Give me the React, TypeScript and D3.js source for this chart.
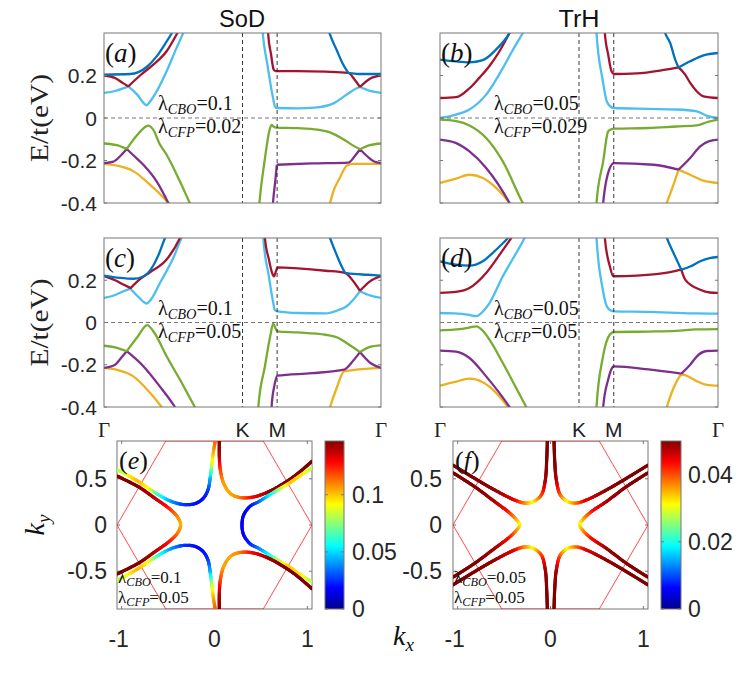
import { useEffect, useRef } from 'react';
import * as d3 from 'd3';

type Pt = [number, number] | null;
type CPt = [number, number, number];

const W = 747;
const H = 678;
const SANS = '"Liberation Sans", Arial, Helvetica, sans-serif';
const SERIF = '"Liberation Serif", "Times New Roman", serif';

// k path Γ-K-M-Γ as fraction of panel width
const kPath = [0, 0.5, 0.625, 1];
const kNames = ['Γ', 'K', 'M', 'Γ'];
const eTicks = [0.2, 0, -0.2, -0.4];
const eTickText = ['0.2', '0', '-0.2', '-0.4'];
const bandColors = ['#0072BD', '#A2142F', '#4DBEEE', '#77AC30', '#7E2F8E', '#EDB120'];

// (a) SoD  λCBO=0.1  λCFP=0.02
const aBlue: Pt[] = [[0, 0.204], [0.095, 0.207], [0.154, 0.24], [0.19, 0.29], [0.226, 0.36], [0.245, 0.4], [0.27, 0.47], null,
  [0.8, 0.46], [0.816, 0.392], [0.84, 0.32], [0.86, 0.26], [0.882, 0.212], null, [0.882, 0.212], [0.92, 0.207], [1, 0.207]];
const aRed: Pt[] = [[0, 0.2], [0.04, 0.188], [0.07, 0.163], [0.088, 0.149], null, [0.088, 0.149], [0.13, 0.2], [0.178, 0.251], [0.226, 0.314], [0.265, 0.4], [0.29, 0.46], null,
  [0.585, 0.6], [0.593, 0.39], [0.603, 0.3], [0.612, 0.23], [0.618, 0.221], null, [0.618, 0.221], [0.7, 0.221], [0.8, 0.218], [0.882, 0.212], [0.905, 0.18], [0.924, 0.146], null,
  [0.924, 0.146], [0.96, 0.185], [1, 0.2]];
const aLight: Pt[] = [[0, 0.118], [0.04, 0.127], [0.07, 0.14], [0.088, 0.149], null, [0.088, 0.149], [0.12, 0.11], [0.145, 0.068], [0.154, 0.06], [0.165, 0.075], [0.19, 0.125], [0.226, 0.22], [0.262, 0.33], [0.286, 0.4], [0.3, 0.44], null,
  [0.565, 0.55], [0.573, 0.4], [0.59, 0.25], [0.605, 0.13], [0.617, 0.05], null, [0.617, 0.05], [0.626, 0.047], [0.7, 0.045], [0.77, 0.05], [0.83, 0.07], [0.876, 0.11], [0.912, 0.14], [0.924, 0.146], null,
  [0.924, 0.146], [0.96, 0.128], [1, 0.118]];
const aGreen: Pt[] = [[0, -0.12], [0.046, -0.128], [0.082, -0.146], null, [0.082, -0.146], [0.12, -0.08], [0.16, -0.036], [0.18, -0.06], [0.2, -0.12], [0.226, -0.173], [0.274, -0.298], [0.31, -0.4], [0.33, -0.45], null,
  [0.555, -0.5], [0.561, -0.4], [0.58, -0.2], [0.597, -0.06], [0.605, -0.033], [0.612, -0.04], [0.62, -0.045], [0.7, -0.048], [0.77, -0.055], [0.82, -0.07], [0.864, -0.1], [0.9, -0.13], [0.924, -0.147], null,
  [0.924, -0.147], [0.96, -0.128], [1, -0.12]];
const aPurple: Pt[] = [[0, -0.212], [0.034, -0.205], [0.058, -0.18], [0.082, -0.146], null, [0.082, -0.146], [0.11, -0.18], [0.142, -0.22], [0.19, -0.298], [0.232, -0.4], [0.25, -0.45], null,
  [0.605, -0.5], [0.61, -0.4], [0.618, -0.3], [0.624, -0.22], null, [0.624, -0.22], [0.75, -0.214], [0.882, -0.21], [0.905, -0.18], [0.924, -0.147], null,
  [0.924, -0.147], [0.95, -0.18], [0.975, -0.205], [1, -0.212]];
const aYellow: Pt[] = [[0, -0.216], [0.05, -0.225], [0.106, -0.25], [0.166, -0.314], [0.2, -0.355], [0.232, -0.4], [0.25, -0.43], null,
  [0.8, -0.45], [0.816, -0.4], [0.828, -0.345], [0.852, -0.28], [0.876, -0.225], [0.9, -0.216], [1, -0.216]];

// (b) TrH  λCBO=0.05  λCFP=0.029
const bBlue: Pt[] = [[0, 0.275], [0.058, 0.266], [0.106, 0.262], [0.154, 0.272], [0.2, 0.32], [0.25, 0.4], [0.27, 0.45], null,
  [0.795, 0.48], [0.81, 0.4], [0.828, 0.353], [0.846, 0.275], [0.858, 0.238], null, [0.858, 0.238], [0.9, 0.267], [0.948, 0.295], [1, 0.306]];
const bRed: Pt[] = [[0, 0.094], [0.058, 0.098], [0.106, 0.14], [0.142, 0.19], [0.178, 0.245], [0.214, 0.314], [0.25, 0.4], [0.27, 0.45], null,
  [0.585, 0.6], [0.593, 0.4], [0.605, 0.298], [0.617, 0.22], [0.626, 0.207], [0.708, 0.21], [0.8, 0.225], [0.858, 0.238], null,
  [0.858, 0.238], [0.882, 0.204], [0.9, 0.165], [0.924, 0.125], [0.948, 0.102], [1, 0.094]];
const bLight: Pt[] = [[0, 0.0], [0.058, 0.016], [0.106, 0.04], [0.166, 0.11], [0.226, 0.235], [0.262, 0.32], [0.298, 0.4], [0.32, 0.45], null,
  [0.555, 0.6], [0.563, 0.4], [0.585, 0.18], [0.6, 0.078], [0.617, 0.05], [0.626, 0.047], [0.75, 0.043], [0.85, 0.04], [0.924, 0.031], [0.96, 0.01], [1, 0.0]];
const bGreen: Pt[] = [[0, -0.008], [0.058, -0.015], [0.106, -0.035], [0.166, -0.094], [0.226, -0.204], [0.298, -0.4], [0.32, -0.45], null,
  [0.555, -0.6], [0.563, -0.4], [0.587, -0.204], [0.605, -0.063], [0.62, -0.052], [0.626, -0.05], [0.75, -0.047], [0.85, -0.04], [0.924, -0.035], [0.96, -0.02], [1, -0.008]];
const bPurple: Pt[] = [[0, -0.102], [0.058, -0.118], [0.106, -0.157], [0.166, -0.235], [0.25, -0.4], [0.27, -0.45], null,
  [0.58, -0.6], [0.587, -0.4], [0.611, -0.235], [0.626, -0.212], [0.768, -0.22], [0.858, -0.243], null,
  [0.858, -0.243], [0.9, -0.188], [0.936, -0.133], [0.966, -0.11], [1, -0.102]];
const bYellow: Pt[] = [[0, -0.306], [0.058, -0.285], [0.106, -0.267], [0.154, -0.282], [0.202, -0.329], [0.25, -0.4], [0.27, -0.44], null,
  [0.805, -0.45], [0.816, -0.4], [0.84, -0.314], [0.858, -0.243], null, [0.858, -0.243], [0.9, -0.267], [0.948, -0.295], [1, -0.306]];

// (c) SoD  λCBO=0.1  λCFP=0.05
const cBlue: Pt[] = [[0, 0.222], [0.058, 0.211], [0.106, 0.207], [0.142, 0.218], [0.178, 0.27], [0.2, 0.33], [0.22, 0.4], [0.24, 0.46], null,
  [0.8, 0.46], [0.816, 0.4], [0.84, 0.32], [0.86, 0.26], [0.87, 0.235], null, [0.87, 0.235], [0.9, 0.23], [0.95, 0.226], [1, 0.222]];
const cRed: Pt[] = [[0, 0.22], [0.04, 0.2], [0.07, 0.18], [0.096, 0.163], null, [0.096, 0.163], [0.13, 0.205], [0.166, 0.238], [0.226, 0.298], [0.274, 0.4], [0.29, 0.45], null,
  [0.574, 0.6], [0.581, 0.4], [0.595, 0.3], [0.609, 0.227], [0.614, 0.218], [0.62, 0.24], [0.626, 0.261], null,
  [0.626, 0.261], [0.7, 0.256], [0.8, 0.245], [0.87, 0.235], [0.9, 0.195], [0.924, 0.15], null, [0.924, 0.15], [0.96, 0.195], [1, 0.22]];
const cLight: Pt[] = [[0, 0.116], [0.04, 0.13], [0.07, 0.148], [0.096, 0.16], null, [0.096, 0.16], [0.125, 0.12], [0.154, 0.09], [0.17, 0.11], [0.202, 0.187], [0.25, 0.305], [0.28, 0.4], [0.3, 0.45], null,
  [0.568, 0.6], [0.575, 0.4], [0.595, 0.22], [0.61, 0.1], [0.617, 0.058], [0.626, 0.053], [0.7, 0.045], [0.8, 0.043], [0.845, 0.058], [0.876, 0.077], [0.9, 0.108], [0.924, 0.148], null,
  [0.924, 0.148], [0.96, 0.128], [1, 0.116]];
const cGreen: Pt[] = [[0, -0.11], [0.04, -0.118], [0.082, -0.136], null, [0.082, -0.136], [0.12, -0.07], [0.156, -0.012], [0.18, -0.045], [0.226, -0.16], [0.274, -0.27], [0.328, -0.4], [0.35, -0.45], null,
  [0.55, -0.6], [0.557, -0.4], [0.581, -0.207], [0.6, -0.065], [0.611, -0.005], [0.62, -0.03], [0.626, -0.042], [0.7, -0.047], [0.8, -0.058], [0.845, -0.072], [0.876, -0.097], [0.924, -0.14], null,
  [0.924, -0.14], [0.96, -0.115], [1, -0.108]];
const cPurple: Pt[] = [[0, -0.215], [0.04, -0.2], [0.06, -0.17], [0.082, -0.136], null, [0.082, -0.136], [0.142, -0.207], [0.2, -0.3], [0.256, -0.4], [0.27, -0.43], null,
  [0.598, -0.6], [0.605, -0.4], [0.615, -0.3], [0.626, -0.252], [0.75, -0.24], [0.867, -0.223], [0.9, -0.18], [0.924, -0.14], null,
  [0.924, -0.14], [0.96, -0.19], [1, -0.215]];
const cYellow: Pt[] = [[0, -0.215], [0.05, -0.225], [0.106, -0.255], [0.166, -0.333], [0.208, -0.4], [0.225, -0.43], null,
  [0.805, -0.45], [0.816, -0.4], [0.84, -0.31], [0.867, -0.231], [0.9, -0.225], [1, -0.215]];

// (d) TrH  λCBO=0.05  λCFP=0.05
const dBlue: Pt[] = [[0, 0.29], [0.058, 0.274], [0.106, 0.269], [0.154, 0.29], [0.19, 0.33], [0.214, 0.36], [0.244, 0.4], [0.27, 0.45], null,
  [0.8, 0.46], [0.816, 0.4], [0.84, 0.329], [0.868, 0.25], null, [0.868, 0.25], [0.9, 0.265], [0.936, 0.29], [0.97, 0.305], [1, 0.31]];
const dRed: Pt[] = [[0, 0.14], [0.058, 0.145], [0.106, 0.163], [0.166, 0.234], [0.214, 0.32], [0.256, 0.4], [0.28, 0.45], null,
  [0.585, 0.6], [0.593, 0.4], [0.611, 0.266], [0.623, 0.219], [0.708, 0.222], [0.828, 0.238], [0.868, 0.25], null,
  [0.868, 0.25], [0.882, 0.203], [0.936, 0.155], [0.97, 0.142], [1, 0.14]];
const dLight: Pt[] = [[0, 0.045], [0.05, 0.043], [0.1, 0.037], [0.13, 0.03], [0.16, 0.06], [0.178, 0.092], [0.226, 0.219], [0.274, 0.329], [0.304, 0.4], [0.32, 0.45], null,
  [0.555, 0.6], [0.563, 0.4], [0.585, 0.16], [0.6, 0.077], [0.615, 0.056], [0.626, 0.053], [0.75, 0.05], [0.85, 0.046], [0.92, 0.043], [1, 0.042]];
const dGreen: Pt[] = [[0, -0.037], [0.05, -0.034], [0.1, -0.025], [0.13, -0.018], [0.155, -0.04], [0.178, -0.081], [0.226, -0.192], [0.31, -0.4], [0.33, -0.45], null,
  [0.555, -0.6], [0.563, -0.4], [0.585, -0.17], [0.611, -0.057], [0.626, -0.045], [0.75, -0.043], [0.85, -0.04], [0.92, -0.033], [1, -0.031]];
const dPurple: Pt[] = [[0, -0.133], [0.058, -0.138], [0.106, -0.168], [0.166, -0.255], [0.25, -0.4], [0.27, -0.44], null,
  [0.58, -0.6], [0.587, -0.4], [0.605, -0.27], [0.62, -0.213], [0.626, -0.208], [0.75, -0.222], [0.868, -0.242], null,
  [0.868, -0.242], [0.9, -0.2], [0.924, -0.16], [0.96, -0.135], [1, -0.133]];
const dYellow: Pt[] = [[0, -0.299], [0.058, -0.28], [0.106, -0.266], [0.154, -0.283], [0.202, -0.333], [0.244, -0.4], [0.26, -0.43], null,
  [0.805, -0.45], [0.816, -0.4], [0.84, -0.31], [0.868, -0.242], null, [0.868, -0.242], [0.9, -0.26], [0.924, -0.278], [0.96, -0.295], [1, -0.299]];

const bandSets = [
  [aBlue, aRed, aLight, aGreen, aPurple, aYellow],
  [bBlue, bRed, bLight, bGreen, bPurple, bYellow],
  [cBlue, cRed, cLight, cGreen, cPurple, cYellow],
  [dBlue, dRed, dLight, dGreen, dPurple, dYellow],
];
const cboText = ['0.1', '0.05', '0.1', '0.05'];
const cfpText = ['0.02', '0.029', '0.05', '0.05'];
const panelLetters = ['a', 'b', 'c', 'd'];

// Fermi contours: [kx, ky, Γ]
const eA: CPt[] = [[-1.05, 0.53, 0.147], [-0.82, 0.414, 0.147], [-0.64, 0.288, 0.138], [-0.49, 0.18, 0.125], [-0.4, 0.09, 0.11], [-0.365, 0, 0.103],
  [-0.4, -0.09, 0.11], [-0.49, -0.18, 0.125], [-0.64, -0.288, 0.138], [-0.82, -0.414, 0.147], [-1.05, -0.53, 0.147]];
const eB: CPt[] = [[-1.05, 0.6, 0.078], [-0.93, 0.535, 0.092], [-0.816, 0.468, 0.103], [-0.7, 0.39, 0.09], [-0.6, 0.325, 0.062], [-0.457, 0.252, 0.04],
  [-0.32, 0.22, 0.026], [-0.2, 0.235, 0.02], [-0.12, 0.29, 0.02], [-0.07, 0.38, 0.025], [-0.045, 0.52, 0.045], [-0.027, 0.666, 0.085], [-0.009, 0.81, 0.105], [0.009, 0.909, 0.115]];
const eC: CPt[] = [[0.052, 0.909, 0.147], [0.052, 0.738, 0.14], [0.063, 0.594, 0.12], [0.099, 0.45, 0.106], [0.17, 0.342, 0.104], [0.26, 0.3, 0.108],
  [0.404, 0.3, 0.128], [0.583, 0.36, 0.143], [0.8, 0.486, 0.147], [0.93, 0.585, 0.147], [1.05, 0.69, 0.147]];
const eD: CPt[] = [[1.05, 0.62, 0.08], [0.93, 0.54, 0.095], [0.8, 0.45, 0.1], [0.69, 0.385, 0.08], [0.6, 0.33, 0.058], [0.475, 0.252, 0.035], [0.386, 0.205, 0.022],
  [0.314, 0.108, 0.018], [0.296, 0, 0.017], [0.314, -0.108, 0.018], [0.386, -0.205, 0.022], [0.475, -0.252, 0.035], [0.6, -0.33, 0.058], [0.69, -0.385, 0.08],
  [0.8, -0.45, 0.1], [0.93, -0.54, 0.095], [1.05, -0.62, 0.08]];
const eE: CPt[] = [[0.052, -0.909, 0.147], [0.052, -0.738, 0.14], [0.063, -0.594, 0.12], [0.099, -0.45, 0.106], [0.17, -0.342, 0.104], [0.26, -0.3, 0.108],
  [0.404, -0.3, 0.128], [0.583, -0.36, 0.143], [0.8, -0.486, 0.147], [0.93, -0.585, 0.147], [1.05, -0.69, 0.147]];
const eF: CPt[] = [[-1.05, -0.6, 0.078], [-0.93, -0.535, 0.092], [-0.816, -0.468, 0.103], [-0.7, -0.39, 0.09], [-0.6, -0.325, 0.062], [-0.457, -0.252, 0.04],
  [-0.32, -0.22, 0.026], [-0.2, -0.235, 0.02], [-0.12, -0.29, 0.02], [-0.07, -0.38, 0.025], [-0.045, -0.52, 0.045], [-0.027, -0.666, 0.085], [-0.009, -0.81, 0.105], [0.009, -0.909, 0.115]];

const fA: CPt[] = [[-1.05, 0.565, 0.05], [-0.816, 0.414, 0.05], [-0.6, 0.252, 0.048], [-0.457, 0.144, 0.043], [-0.37, 0.06, 0.036], [-0.332, 0, 0.031],
  [-0.37, -0.06, 0.036], [-0.457, -0.144, 0.043], [-0.6, -0.252, 0.048], [-0.816, -0.414, 0.05], [-1.05, -0.565, 0.05]];
const fB: CPt[] = [[-1.05, 0.648, 0.05], [-0.816, 0.504, 0.05], [-0.6, 0.378, 0.049], [-0.386, 0.27, 0.045], [-0.28, 0.238, 0.038], [-0.188, 0.252, 0.031],
  [-0.099, 0.324, 0.04], [-0.056, 0.486, 0.048], [-0.041, 0.702, 0.05], [-0.034, 0.909, 0.05]];
const fC: CPt[] = [[0.038, 0.909, 0.05], [0.045, 0.702, 0.05], [0.063, 0.486, 0.048], [0.106, 0.324, 0.04], [0.188, 0.252, 0.031], [0.28, 0.238, 0.038],
  [0.386, 0.27, 0.045], [0.6, 0.378, 0.049], [0.816, 0.504, 0.05], [1.05, 0.648, 0.05]];
const fD: CPt[] = [[1.05, 0.565, 0.05], [0.816, 0.414, 0.05], [0.6, 0.252, 0.048], [0.44, 0.144, 0.043], [0.35, 0.06, 0.036], [0.314, 0, 0.031],
  [0.35, -0.06, 0.036], [0.44, -0.144, 0.043], [0.6, -0.252, 0.048], [0.816, -0.414, 0.05], [1.05, -0.565, 0.05]];
const fE: CPt[] = [[0.038, -0.909, 0.05], [0.045, -0.702, 0.05], [0.063, -0.486, 0.048], [0.106, -0.324, 0.04], [0.188, -0.252, 0.031], [0.28, -0.238, 0.038],
  [0.386, -0.27, 0.045], [0.6, -0.378, 0.049], [0.816, -0.504, 0.05], [1.05, -0.648, 0.05]];
const fF: CPt[] = [[-1.05, -0.648, 0.05], [-0.816, -0.504, 0.05], [-0.6, -0.378, 0.049], [-0.386, -0.27, 0.045], [-0.28, -0.238, 0.038], [-0.188, -0.252, 0.031],
  [-0.099, -0.324, 0.04], [-0.056, -0.486, 0.048], [-0.041, -0.702, 0.05], [-0.034, -0.909, 0.05]];

// Brillouin zone hexagon
const bz: [number, number][] = [[-1.05, 0], [-0.525, 0.909], [0.525, 0.909], [1.05, 0], [0.525, -0.909], [-0.525, -0.909]];
const kxTicks = [-1, 0, 1];
const kyTicks = [0.5, 0, -0.5];
const kyTickText = ['0.5', '0', '-0.5'];

const eCbTicks = [0, 0.05, 0.1];
const eCbText = ['0', '0.05', '0.1'];
const fCbTicks = [0, 0.02, 0.04];
const fCbText = ['0', '0.02', '0.04'];

const jetStops = [0, 0.125, 0.375, 0.625, 0.875, 1];
const jetColors = ['#00008f', '#0000ff', '#00ffff', '#ffff00', '#ff0000', '#800000'];

const bandLayout = [
  { x: 104, y: 33, w: 277, h: 170 },
  { x: 440, y: 33, w: 278, h: 170 },
  { x: 104, y: 238, w: 277, h: 169 },
  { x: 440, y: 238, w: 278, h: 169 },
];

const contourLayout = [
  { x: 117, y: 441, w: 195, h: 168, cbx: 325, cbw: 19, vmax: 0.147, letter: 'e', cbo: '0.1', cfp: '0.05', lab: 10, cbLab: 8 },
  { x: 453, y: 441, w: 195, h: 168, cbx: 661, cbw: 20, vmax: 0.05, letter: 'f', cbo: '0.05', cfp: '0.05', lab: 11, cbLab: 7 },
];
const contourSets = [[eA, eB, eC, eD, eE, eF], [fA, fB, fC, fD, fE, fF]];
const cbTicks = [eCbTicks, fCbTicks];
const cbText = [eCbText, fCbText];

const jet = d3.scaleLinear<string>().domain(jetStops).range(jetColors).clamp(true);

function Lambda({ x, y, sub, val, size }: { x: number; y: number; sub: string; val: string; size: number }) {
  return (
    <text x={x} y={y} fontFamily={SERIF} fontSize={size} fill="#111">
      λ<tspan fontStyle="italic" fontSize={size * 0.72} dy={size * 0.2}>{sub}</tspan>
      <tspan dy={-size * 0.2}>={val}</tspan>
    </text>
  );
}

function BandPanel({ i }: { i: number }) {
  const L = bandLayout[i];
  const x = d3.scaleLinear().domain([0, 1]).range([L.x, L.x + L.w]);
  const y = d3.scaleLinear().domain([-0.4, 0.4]).range([L.y + L.h, L.y]);
  const line = d3.line<Pt>()
    .defined(d => d !== null)
    .x(d => x((d as [number, number])[0]))
    .y(d => y((d as [number, number])[1]))
    .curve(d3.curveMonotoneX);
  const bands = bandSets[i];
  const left = i % 2 === 0;
  const bottom = i >= 2;
  const y0 = y(0);
  const order = [5, 4, 3, 2, 1, 0];
  return (
    <g>
      <defs>
        <clipPath id={`bclip${i}`}>
          <rect x={L.x} y={L.y} width={L.w} height={L.h} />
        </clipPath>
      </defs>
      <g clipPath={`url(#bclip${i})`}>
        {order.map(j => (
          <path key={j} d={line(bands[j]) ?? ''} fill="none" stroke={bandColors[j]} strokeWidth={2.3} strokeLinejoin="round" />
        ))}
      </g>
      {kPath.slice(1, 3).map(k => (
        <line key={k} x1={x(k)} x2={x(k)} y1={L.y} y2={L.y + L.h} stroke="#222" strokeWidth={0.9} strokeDasharray="4 3" />
      ))}
      <line x1={L.x} x2={L.x + L.w} y1={y0} y2={y0} stroke="#666" strokeWidth={0.9} strokeDasharray="4 3" />
      <rect x={L.x} y={L.y} width={L.w} height={L.h} fill="none" stroke="#777" strokeWidth={1} />
      {eTicks.map(t => (
        <g key={t}>
          <line x1={L.x} x2={L.x + 3} y1={y(t)} y2={y(t)} stroke="#777" />
          <line x1={L.x + L.w - 3} x2={L.x + L.w} y1={y(t)} y2={y(t)} stroke="#777" />
        </g>
      ))}
      {left && eTicks.map((t, j) => (
        <text key={t} x={L.x - 7} y={y(t)} dy="0.36em" textAnchor="end" fontFamily={SANS} fontSize={21} fill="#262626">{eTickText[j]}</text>
      ))}
      {left && (
        <text transform={`translate(48,${L.y + L.h / 2}) rotate(-90)`} textAnchor="middle" fontFamily={SERIF} fontSize={25}
          textLength={88} lengthAdjust="spacingAndGlyphs" fill="#222">E/t(eV)</text>
      )}
      <text x={L.x + 1} y={L.y + 29} fontFamily={SERIF} fontSize={27} fill="#111">
        (<tspan fontStyle="italic">{panelLetters[i]}</tspan>)
      </text>
      <Lambda x={L.x + 54} y={y0 - 8} sub="CBO" val={cboText[i]} size={20} />
      <Lambda x={L.x + 54} y={y0 + 15} sub="CFP" val={cfpText[i]} size={20} />
      {bottom && kPath.map((k, j) => (
        <text key={j} x={x(k)} y={L.y + L.h + 30} textAnchor="middle" fontFamily={kNames[j] === 'Γ' ? SERIF : SANS} fontSize={21} fill="#222">{kNames[j]}</text>
      ))}
    </g>
  );
}

function ContourPanel({ i }: { i: number }) {
  const L = contourLayout[i];
  const ref = useRef<SVGGElement>(null);
  const x = d3.scaleLinear().domain([-1.05, 1.05]).range([L.x, L.x + L.w]);
  const y = d3.scaleLinear().domain([-0.909, 0.909]).range([L.y + L.h, L.y]);
  const cy = d3.scaleLinear().domain([0, L.vmax]).range([L.y + L.h, L.y]);

  useEffect(() => {
    if (!ref.current) return;
    const g = d3.select(ref.current);
    g.selectAll('*').remove();
    const line = d3.line<CPt>().x(d => x(d[0])).y(d => y(d[1])).curve(d3.curveCatmullRom.alpha(0.5));
    contourSets[i].forEach(br => {
      const path = g.append('path').attr('d', line(br) ?? '').attr('fill', 'none').attr('stroke', 'none');
      const node = path.node() as SVGPathElement;
      const total = node.getTotalLength();
      const cum = [0];
      for (let j = 1; j < br.length; j++) {
        cum.push(cum[j - 1] + Math.hypot(x(br[j][0]) - x(br[j - 1][0]), y(br[j][1]) - y(br[j - 1][1])));
      }
      const chord = cum[cum.length - 1];
      const vAt = d3.scaleLinear().domain(cum.map(c => (c / chord) * total)).range(br.map(d => d[2]));
      const n = Math.ceil(total / 1.2);
      for (let s = 0; s < n; s++) {
        const s0 = (s * total) / n;
        const s1 = ((s + 1) * total) / n;
        const p0 = node.getPointAtLength(s0);
        const p1 = node.getPointAtLength(s1);
        g.append('line')
          .attr('x1', p0.x).attr('y1', p0.y).attr('x2', p1.x).attr('y2', p1.y)
          .attr('stroke', jet(vAt((s0 + s1) / 2) / L.vmax))
          .attr('stroke-width', 3.2)
          .attr('stroke-linecap', 'round');
      }
      path.remove();
    });
  }, [i]);

  const hex = d3.line<[number, number]>().x(d => x(d[0])).y(d => y(d[1]));
  const gid = `jet${i}`;
  return (
    <g>
      <defs>
        <clipPath id={`cclip${i}`}>
          <rect x={L.x} y={L.y} width={L.w} height={L.h} />
        </clipPath>
        <linearGradient id={gid} x1="0" y1="1" x2="0" y2="0">
          {jetStops.map((s, j) => <stop key={j} offset={s} stopColor={jetColors[j]} />)}
        </linearGradient>
      </defs>
      <rect x={L.x} y={L.y} width={L.w} height={L.h} fill="none" stroke="#777" strokeWidth={1} />
      {kxTicks.map(t => (
        <g key={t}>
          <line x1={x(t)} x2={x(t)} y1={L.y} y2={L.y + 3} stroke="#777" />
          <line x1={x(t)} x2={x(t)} y1={L.y + L.h - 3} y2={L.y + L.h} stroke="#777" />
        </g>
      ))}
      {kyTicks.map(t => (
        <g key={t}>
          <line x1={L.x} x2={L.x + 3} y1={y(t)} y2={y(t)} stroke="#777" />
          <line x1={L.x + L.w - 3} x2={L.x + L.w} y1={y(t)} y2={y(t)} stroke="#777" />
        </g>
      ))}
      <g clipPath={`url(#cclip${i})`}>
        <path d={(hex(bz) ?? '') + 'Z'} fill="none" stroke="#ff2020" strokeWidth={0.8} />
        <g ref={ref} />
      </g>
      <text x={L.x + 2} y={L.y + 28} fontFamily={SERIF} fontSize={26} fill="#111">
        (<tspan fontStyle="italic">{L.letter}</tspan>)
      </text>
      <Lambda x={L.x + 1} y={L.y + 142} sub="CBO" val={L.cbo} size={17} />
      <Lambda x={L.x + 1} y={L.y + 162} sub="CFP" val={L.cfp} size={17} />
      {kxTicks.map(t => (
        <text key={t} x={x(t) + (t < 0 ? -3 : 0)} y={L.y + L.h + 38} textAnchor="middle" fontFamily={SANS} fontSize={23} fill="#262626">{t}</text>
      ))}
      {kyTicks.map((t, j) => (
        <text key={t} x={L.x - L.lab} y={y(t)} dy="0.36em" textAnchor="end" fontFamily={SANS} fontSize={23} fill="#262626">{kyTickText[j]}</text>
      ))}
      <rect x={L.cbx} y={L.y} width={L.cbw} height={L.h} fill={`url(#${gid})`} stroke="#777" strokeWidth={1} />
      {cbTicks[i].map((t, j) => (
        <g key={t}>
          <line x1={L.cbx} x2={L.cbx + 3} y1={cy(t)} y2={cy(t)} stroke="#777" />
          <line x1={L.cbx + L.cbw - 3} x2={L.cbx + L.cbw} y1={cy(t)} y2={cy(t)} stroke="#777" />
          <text x={L.cbx + L.cbw + L.cbLab} y={cy(t)} dy="0.36em" fontFamily={SANS} fontSize={23} fill="#262626">{cbText[i][j]}</text>
        </g>
      ))}
    </g>
  );
}

export default function App() {
  return (
    <svg width={W} height={H} viewBox={`0 0 ${W} ${H}`} style={{ position: 'absolute', left: 0, top: 0, background: '#fff' }}>
      <rect x={0} y={0} width={W} height={H} fill="#fff" />
      <text x={242} y={27} textAnchor="middle" fontFamily={SANS} fontSize={23} textLength={46} lengthAdjust="spacingAndGlyphs" fill="#111">SoD</text>
      <text x={579} y={27} textAnchor="middle" fontFamily={SANS} fontSize={23} textLength={41} lengthAdjust="spacingAndGlyphs" fill="#111">TrH</text>
      {bandLayout.map((_, i) => <BandPanel key={i} i={i} />)}
      {contourLayout.map((_, i) => <ContourPanel key={i} i={i} />)}
      <text transform="translate(44,525) rotate(-90)" textAnchor="middle" fontFamily={SERIF} fontSize={28} fontStyle="italic" fill="#111">
        k<tspan fontSize={19} dy={6}>y</tspan>
      </text>
      <text x={393} y={645} fontFamily={SERIF} fontSize={28} fontStyle="italic" fill="#111">
        k<tspan fontSize={19} dy={6}>x</tspan>
      </text>
    </svg>
  );
}
